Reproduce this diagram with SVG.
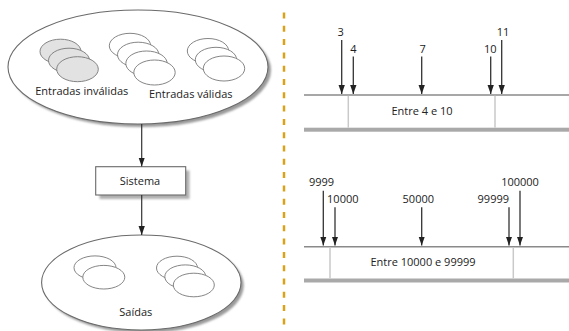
<svg xmlns="http://www.w3.org/2000/svg" width="569" height="331" viewBox="0 0 569 331">
  <style>
    text { font-family: "Open Sans", "Noto Sans", "Liberation Sans", sans-serif; font-size: 11px; fill: #222; }
    .lbl { text-anchor: middle; }
    .big { fill: #fff; stroke: #6a6a6a; stroke-width: 1.1; }
    .shadow { fill: #9a9a9a; filter: url(#soft); }
    .disk { fill: #fff; stroke: #777; stroke-width: 0.9; }
    .disk.bad { fill: #e2e2e2; }
    .flow { stroke: #333; stroke-width: 1.2; fill: none; marker-end: url(#head); }
    .probe { stroke: #333; stroke-width: 1.3; fill: none; marker-end: url(#head); }
    .rail { stroke: #8a8a8a; stroke-width: 1.5; }
    .base { fill: #a9a9a9; }
    .cut { stroke: #c9c9c9; stroke-width: 1.5; }
    .divider { stroke: #d9a21b; stroke-width: 2.5; stroke-dasharray: 6 7.3; }
  </style>
  <defs>
    <filter id="soft" x="-10%" y="-10%" width="120%" height="120%">
      <feGaussianBlur stdDeviation="0.8"/>
    </filter>
    <marker id="head" viewBox="0 0 10 7" markerWidth="9" markerHeight="6.5" refX="10" refY="3.5" orient="auto" markerUnits="userSpaceOnUse">
      <path d="M0,0 L10,3.5 L0,7 z" fill="#222"/>
    </marker>
  </defs>
  <rect width="569" height="331" fill="#fff"/>

  <!-- left panel: input domain, system, outputs -->
  <g id="entradas">
    <ellipse class="shadow" cx="141" cy="70" rx="130" ry="57"/>
    <ellipse class="big" cx="138" cy="67" rx="130" ry="57"/>
    <ellipse class="disk bad" cx="60.5" cy="51.5" rx="20.5" ry="12.3"/>
    <ellipse class="disk bad" cx="69" cy="60.5" rx="20.5" ry="12.3"/>
    <ellipse class="disk bad" cx="77.5" cy="69.2" rx="20.8" ry="12.5"/>
    <ellipse class="disk" cx="130" cy="45.8" rx="20.7" ry="12.5"/>
    <ellipse class="disk" cx="138.2" cy="54.7" rx="20.7" ry="12.5"/>
    <ellipse class="disk" cx="146.5" cy="63.5" rx="20.7" ry="12.5"/>
    <ellipse class="disk" cx="154.5" cy="72.5" rx="20.7" ry="12.5"/>
    <ellipse class="disk" cx="208" cy="51" rx="20.7" ry="12.5"/>
    <ellipse class="disk" cx="216" cy="59.8" rx="20.7" ry="12.5"/>
    <ellipse class="disk" cx="224" cy="68.5" rx="20.7" ry="12.5"/>
    <text class="lbl" x="81.7" y="95">Entradas inválidas</text>
    <text class="lbl" x="190.7" y="98.3">Entradas válidas</text>
  </g>

  <g id="sistema">
    <rect x="99.5" y="170.5" width="90" height="28.5" fill="#b0b0b0" filter="url(#soft)"/>
    <rect x="95.7" y="166.7" width="90" height="28.3" fill="#fff" stroke="#6a6a6a" stroke-width="1.1"/>
    <text class="lbl" x="140" y="184.5">Sistema</text>
  </g>

  <g id="saidas">
    <ellipse class="shadow" cx="144" cy="285.5" rx="99.7" ry="47.5"/>
    <ellipse class="big" cx="141.3" cy="282.5" rx="99.7" ry="47.5"/>
    <ellipse class="disk" cx="95" cy="267.7" rx="21" ry="11.8"/>
    <ellipse class="disk" cx="103.8" cy="277.2" rx="21" ry="11.8"/>
    <ellipse class="disk" cx="177" cy="268" rx="20.5" ry="11.8"/>
    <ellipse class="disk" cx="185.3" cy="276.7" rx="20.5" ry="11.8"/>
    <ellipse class="disk" cx="193.8" cy="285" rx="20.5" ry="11.8"/>
    <text class="lbl" x="135.8" y="315.7">Saídas</text>
  </g>

  <g id="fluxo">
    <line class="flow" x1="141.7" y1="124" x2="141.7" y2="166.5"/>
    <line class="flow" x1="141.7" y1="195" x2="141.7" y2="235"/>
  </g>

  <!-- dashed separator between the two panels -->
  <line class="divider" x1="284" y1="12.5" x2="284" y2="331"/>

  <!-- right panel, first range: 4..10 -->
  <g id="faixa-4-10">
    <line class="rail" x1="304" y1="95" x2="569" y2="95"/>
    <rect class="base" x="304" y="127.7" width="265" height="4"/>
    <line class="cut" x1="348.3" y1="95.8" x2="348.3" y2="127.7"/>
    <line class="cut" x1="495" y1="95.8" x2="495" y2="127.7"/>
    <text class="lbl" x="422" y="115">Entre 4 e 10</text>
  </g>
  <g id="valores-4-10">
    <line class="probe" x1="341.7" y1="40" x2="341.7" y2="94"/>
    <line class="probe" x1="353.3" y1="56.5" x2="353.3" y2="94"/>
    <line class="probe" x1="421.7" y1="56.5" x2="421.7" y2="94"/>
    <line class="probe" x1="490.7" y1="56.5" x2="490.7" y2="94"/>
    <line class="probe" x1="501.7" y1="40" x2="501.7" y2="94"/>
    <text class="lbl" x="340.7" y="36">3</text>
    <text class="lbl" x="353.3" y="52.5">4</text>
    <text class="lbl" x="422.7" y="52.5">7</text>
    <text class="lbl" x="490.3" y="52.5">10</text>
    <text class="lbl" x="503" y="36">11</text>
  </g>

  <!-- right panel, second range: 10000..99999 -->
  <g id="faixa-10000-99999">
    <line class="rail" x1="304" y1="246.7" x2="569" y2="246.7"/>
    <rect class="base" x="304" y="278.5" width="265" height="4"/>
    <line class="cut" x1="330" y1="247.5" x2="330" y2="278.5"/>
    <line class="cut" x1="513.3" y1="247.5" x2="513.3" y2="278.5"/>
    <text class="lbl" x="423" y="265.7">Entre 10000 e 99999</text>
  </g>
  <g id="valores-10000-99999">
    <line class="probe" x1="323.3" y1="190.7" x2="323.3" y2="245.5"/>
    <line class="probe" x1="335" y1="207.3" x2="335" y2="245.5"/>
    <line class="probe" x1="421.7" y1="207.3" x2="421.7" y2="245.5"/>
    <line class="probe" x1="509" y1="207.3" x2="509" y2="245.5"/>
    <line class="probe" x1="520" y1="190.7" x2="520" y2="245.5"/>
    <text class="lbl" x="321.5" y="186">9999</text>
    <text class="lbl" x="342.8" y="202.7">10000</text>
    <text class="lbl" x="418.3" y="202.7">50000</text>
    <text class="lbl" x="493.3" y="202.7">99999</text>
    <text class="lbl" x="520" y="186">100000</text>
  </g>
</svg>
